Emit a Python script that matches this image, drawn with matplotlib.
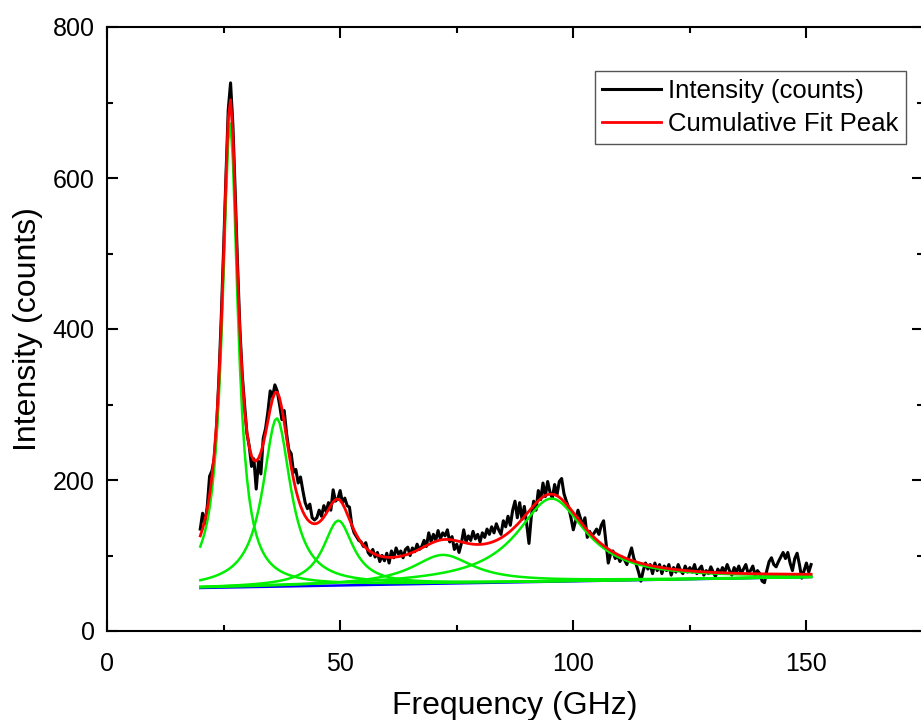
#Brillouin-like spectrum with Lorentzian peak fit
import numpy as np
from matplotlib import pyplot as plt

#measured spectrum, 0.5 GHz steps from 20 to 151 GHz
freq = np.arange(20, 151.5, 0.5)
intensity = [
    135, 156, 142, 165, 205, 212, 228, 270, 335, 415,
    505, 600, 690, 726, 670, 580, 485, 400, 340, 300,
    262, 245, 218, 228, 188, 225, 208, 255, 268, 290,
    318, 310, 326, 318, 300, 280, 292, 262, 240, 235,
    210, 214, 196, 204, 186, 170, 162, 168, 150, 147,
    150, 160, 152, 166, 158, 170, 160, 187, 172, 175,
    186, 170, 176, 166, 164, 140, 130, 125, 120, 118,
    112, 117, 104, 100, 108, 98, 104, 92, 100, 93,
    103, 90, 106, 97, 110, 102, 106, 97, 108, 111,
    100, 110, 105, 115, 108, 112, 120, 112, 130, 118,
    128, 120, 133, 122, 130, 126, 134, 118, 125, 108,
    115, 104, 116, 134, 118, 126, 120, 132, 122, 128,
    118, 130, 124, 135, 128, 138, 130, 142, 134, 128,
    146, 138, 152, 140, 160, 172, 150, 170, 148, 165,
    142, 116, 152, 172, 160, 186, 174, 196, 178, 198,
    184, 176, 194, 180, 198, 202, 182, 172, 164, 150,
    134, 146, 160, 150, 140, 150, 124, 132, 126, 130,
    135, 128, 140, 146, 118, 90, 102, 106, 96, 100,
    92, 98, 94, 88, 100, 110, 96, 88, 78, 66,
    80, 90, 82, 88, 76, 90, 80, 88, 76, 86,
    80, 88, 74, 84, 78, 88, 80, 76, 86, 78,
    84, 78, 88, 76, 82, 86, 74, 80, 76, 85,
    78, 72, 82, 76, 84, 78, 88, 80, 74, 84,
    78, 86, 76, 82, 88, 76, 80, 86, 74, 80,
    76, 66, 64, 80, 92, 97, 88, 85, 92, 98,
    104, 96, 104, 90, 80, 96, 103, 88, 70, 80,
    90, 78, 88,
]

#fitted peak parameters
peakCenter = [26.4, 36.4, 49.6, 72.0, 95.3]
peakHeight = [616, 223, 86, 38, 110]
peakWidth = [2.0, 3.6, 3.9, 8.0, 9.0]

#linear baseline (blue)
baseStart = 57.0
baseEnd = 71.5

plt.rcParams['font.family'] = ['Liberation Sans', 'DejaVu Sans']

fig = plt.figure(figsize=(9.21, 7.2), dpi=100)
ax = fig.add_axes([107 / 921, 89 / 720, 816 / 921, 604 / 720])

baseline = np.interp(freq, [freq[0], freq[-1]], [baseStart, baseEnd])

#build each peak on top of the baseline
peaks = []
for c, h, w in zip(peakCenter, peakHeight, peakWidth):
    peaks.append(h / (1 + ((freq - c) / w) ** 2))
cumulative = baseline + np.sum(peaks, axis=0)

ax.plot(freq, intensity, color='black', lw=2.2, label='Intensity (counts)', zorder=2)
ax.plot(freq, baseline, color='#0000ff', lw=1.8, zorder=3)
for p in peaks:
    ax.plot(freq, baseline + p, color='#00ee00', lw=1.8, zorder=4)
ax.plot(freq, cumulative, color='#ff0000', lw=2.0, label='Cumulative Fit Peak', zorder=5)

ax.set_xlim(0, 173.9)
ax.set_ylim(0, 800)
ax.set_xticks([0, 50, 100, 150])
ax.set_xticks([25, 75, 125, 175], minor=True)
ax.set_yticks([0, 200, 400, 600, 800])
ax.set_yticks([100, 300, 500, 700], minor=True)

ax.tick_params(which='both', direction='in', top=True, right=True, width=1.5, labelsize=18)
ax.tick_params(which='major', length=8, pad=9)
ax.tick_params(axis='x', which='major', pad=15)
ax.tick_params(which='minor', length=4)
for s in ax.spines.values():
    s.set_linewidth(1.5)

ax.set_xlabel('Frequency (GHz)', fontsize=23, labelpad=11)
ax.set_ylabel('Intensity (counts)', fontsize=23, labelpad=7)

leg = ax.legend(loc='upper right', bbox_to_anchor=(0.979, 0.927), fontsize=18.5,
                fancybox=False, edgecolor='#555555', framealpha=1,
                handlelength=2.3, handletextpad=0.25, borderpad=0.3,
                labelspacing=0.35, borderaxespad=0)
leg.get_frame().set_linewidth(1.0)

fig.savefig('out.png', dpi=100)
